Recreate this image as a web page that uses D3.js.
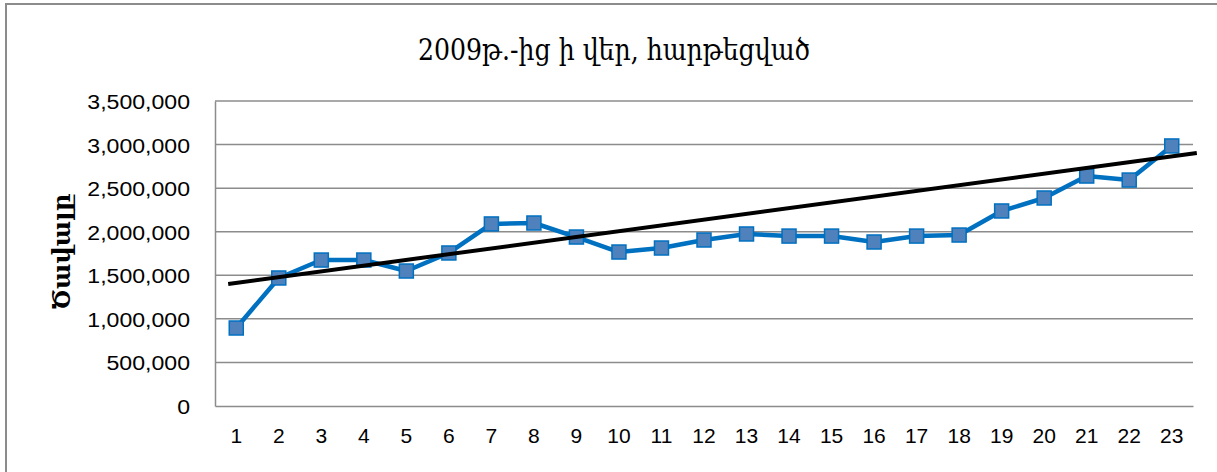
<!DOCTYPE html>
<html>
<head>
<meta charset="utf-8">
<script src="https://cdn.jsdelivr.net/npm/d3@7"></script>
<style>
  body { margin: 0; background: #fff; }
  svg { display: block; }
</style>
</head>
<body>
<div id="chart"></div>
<script>
// values
const periods = d3.range(1, 24).map(String)
const volume = [895000, 1469000, 1675000, 1675000, 1549000, 1756000, 2089000, 2100000,
  1939000, 1767000, 1813000, 1905000, 1974000, 1950000, 1950000, 1882000,
  1950000, 1962000, 2238000, 2387000, 2639000, 2593000, 2984000]
// trend line ends: [category position, value]
const trendEnds = [[0.81, 1400000], [23.59, 2903000]]
const yTicks = [0, 500000, 1000000, 1500000, 2000000, 2500000, 3000000, 3500000]

const titleText = "2009թ.-ից ի վեր, հարթեցված"
const yLabel = "Ծավալը"

let width = 1217, height = 472
let margin = { top: 101, right: 24, bottom: 66, left: 215 }
let w = width - margin.left - margin.right
let h = height - margin.top - margin.bottom

let svg = d3.select("#chart").append("svg")
    .attr("width", width)
    .attr("height", height)

// outer frame
svg.append("rect")
    .attr("x", 6).attr("y", 4)
    .attr("width", 1400).attr("height", 800)
    .attr("fill", "none")
    .attr("stroke", "#8c8c8c")
    .attr("stroke-width", 2)

svg.append("text")
    .attr("transform", "translate(614,60) scale(0.9,1.08)")
    .attr("text-anchor", "middle")
    .style("font-family", "'DejaVu Serif', serif")
    .style("font-size", "28px")
    .text(titleText)

let g = svg.append("g").attr("transform", `translate(${margin.left},${margin.top})`)

let x = d3.scaleBand().domain(periods).range([0, w])
let xPos = d3.scaleLinear().domain([0.5, periods.length + 0.5]).range([0, w])
let y = d3.scaleLinear().domain([0, 3500000]).range([h, 0])

// grid
g.append("g").selectAll("line")
    .data(yTicks.slice(1))
    .enter().append("line")
    .attr("x1", 0).attr("x2", w)
    .attr("y1", d => y(d)).attr("y2", d => y(d))
    .attr("stroke", "#8c8c8c")
    .attr("stroke-width", 1.5)

// y axis
let yAxis = g.append("g")
    .call(d3.axisLeft(y).tickValues(yTicks).tickFormat(d3.format(",")).tickSize(0).tickPadding(25))
yAxis.select(".domain").attr("stroke", "#8c8c8c").attr("stroke-width", 1.5)
yAxis.selectAll("text")
    .style("font-family", "'Liberation Sans', Arial, sans-serif")
    .style("font-size", "21px")
    .attr("fill", "#000")
    .attr("dy", "0.36em")
    .attr("transform", "scale(1.1,1)")
    .attr("x", -25 / 1.1)

// x axis
let xAxis = g.append("g")
    .attr("transform", `translate(0,${h})`)
    .call(d3.axisBottom(x).tickSize(0).tickPadding(22))
xAxis.select(".domain").attr("stroke", "#8c8c8c").attr("stroke-width", 1.5)
xAxis.selectAll("text")
    .style("font-family", "'Liberation Sans', Arial, sans-serif")
    .style("font-size", "21px")
    .attr("fill", "#000")

// y label
svg.append("text")
    .attr("transform", "translate(70,252) rotate(-90)")
    .attr("text-anchor", "middle")
    .style("font-family", "'DejaVu Serif', serif")
    .style("font-size", "24px")
    .style("font-weight", "bold")
    .text(yLabel)

// series
let line = d3.line()
    .x((d, i) => x(periods[i]) + x.bandwidth() / 2)
    .y(d => y(d))

g.append("path")
    .datum(volume)
    .attr("d", line)
    .attr("fill", "none")
    .attr("stroke", "#0070c0")
    .attr("stroke-width", 4.5)
    .attr("stroke-linejoin", "round")

g.selectAll(".marker")
    .data(volume)
    .enter().append("rect")
    .attr("class", "marker")
    .attr("x", (d, i) => x(periods[i]) + x.bandwidth() / 2 - 7)
    .attr("y", d => y(d) - 7)
    .attr("width", 14).attr("height", 14)
    .attr("fill", "#4f81bd")
    .attr("stroke", "#0070c0")
    .attr("stroke-width", 1.5)

// trend line
g.append("line")
    .attr("x1", xPos(trendEnds[0][0])).attr("y1", y(trendEnds[0][1]))
    .attr("x2", xPos(trendEnds[1][0])).attr("y2", y(trendEnds[1][1]))
    .attr("stroke", "#000")
    .attr("stroke-width", 4)
</script>
</body>
</html>
